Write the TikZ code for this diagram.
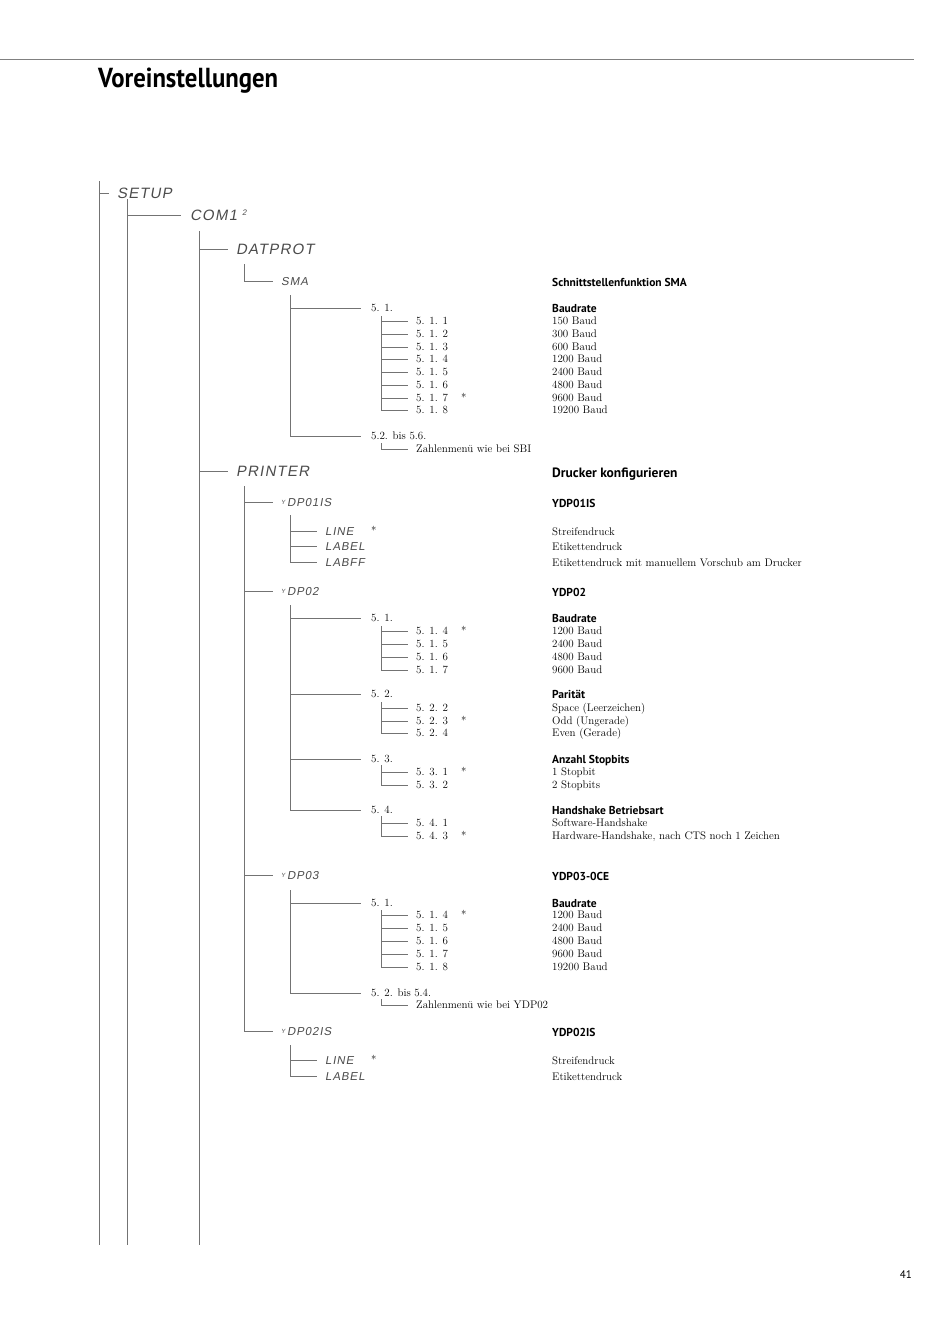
\documentclass[tikz,border=0pt]{standalone}
\usepackage{fontspec}
\newfontfamily\headfont[FakeStretch=0.9]{PT Sans}
\newfontfamily\labfont{PT Sans}
\newfontfamily\lcdfont[FakeSlant=0.18,LetterSpace=8]{Liberation Sans}
\newcommand{\ydp}{\raisebox{2pt}{\fontsize{6}{6}\selectfont Y}\,}

\begin{document}
\begin{tikzpicture}[x=1pt,y=-1pt,
  tree/.style={draw=black!55,line width=0.7pt},
  lcd/.style={anchor=west,inner xsep=8pt,inner ysep=0pt,text height=10.8pt,text depth=0pt,text=black!70,font=\lcdfont\fontsize{15}{15}\selectfont},
  lcdsm/.style={lcd,text height=8.3pt,font=\lcdfont\fontsize{11.5}{12}\selectfont},
  num/.style={anchor=west,inner xsep=8pt,inner ysep=0pt,text height=7.2pt,text depth=0pt,font=\fontsize{11}{12}\selectfont},
  txt/.style={anchor=west,inner sep=0pt,text height=7.2pt,text depth=0pt,font=\fontsize{11}{12}\selectfont},
  hd/.style={anchor=west,inner sep=0pt,text height=8pt,text depth=0pt,font=\labfont\bfseries\fontsize{11.5}{13}\selectfont},
  star/.style={anchor=west,inner sep=0pt,text height=7.2pt,text depth=0pt,font=\fontsize{11}{12}\selectfont}]
  \useasboundingbox (0,0) rectangle (950,1344);
  \fill[white] (0,0) rectangle (950,1344);
  \draw[draw=black!50,line width=1pt] (0,59) -- (914,59);
  \node[anchor=base west,inner sep=0pt,font=\headfont\bfseries\fontsize{27.5}{28}\selectfont] (title) at (98,87) {Voreinstellungen};
  \node[anchor=base east,inner sep=0pt,font=\labfont\fontsize{11}{11}\selectfont] (page) at (912,1278) {41};

  \coordinate (v0) at (99,181);   \coordinate (v0e) at (99,1245);
  \coordinate (v1) at (127,199);  \coordinate (v1e) at (127,1245);
  \coordinate (v2) at (199,231);  \coordinate (v2e) at (199,1245);
  \coordinate (v3) at (244,264);
  \coordinate (v4) at (290,295);
  \coordinate (v5) at (381,316);
  \coordinate (v6) at (381,443);
  \coordinate (v7) at (244,486);
  \coordinate (v8) at (290,515);
  \coordinate (v9) at (290,605);
  \coordinate (v10) at (381,626);
  \coordinate (v11) at (381,702);
  \coordinate (v12) at (381,765);
  \coordinate (v13) at (381,816);
  \coordinate (v14) at (290,890);
  \coordinate (v15) at (381,910);
  \coordinate (v16) at (381,999);
  \coordinate (v17) at (290,1045);

  \node[lcd] (setup) at (109,193) {SETUP};
  \node[lcd,inner xsep=9pt] (com) at (181,215) {COM1\hspace{5pt}\raisebox{5pt}{\fontsize{8}{8}\selectfont 2}};
  \node[lcd] (datprot) at (228,249) {DATPROT};
  \node[lcdsm] (sma) at (273,281) {SMA};
  \node[lcd] (printer) at (228,471) {PRINTER};
  \path[tree] (v0) edge (v0e) (v0) |- (setup.west);
  \path[tree] (v1) edge (v1e) (v1) |- (com.west);
  \path[tree] (v2) edge (v2e) (v2) |- (datprot.west) (v2) |- (printer.west);
  \draw[tree] (v3) |- (sma.west);

  \node[hd] (hsma) at (552,282) {Schnittstellenfunktion SMA};
  \node[num,inner xsep=10pt] (s1) at (361,308) {5. 1.};
  \node[hd] (hs1) at (552,308) {Baudrate};
  \node[num,inner xsep=10pt] (s2) at (361,436) {5.2. bis 5.6.};
  \node[num] (s2z) at (408,449) {Zahlenmen\"u wie bei SBI};
  \draw[tree] (v4) |- (s1.west) (v4) |- (s2.west) (v6) |- (s2z.west);
  \foreach \y/\n/\r [count=\i] in {321/1/150,334/2/300,347/3/600,359/4/1200,372/5/2400,385/6/4800,398/7/9600,410/8/19200}{
    \node[num] (s1-\i) at (408,\y) {5. 1. \n};
    \node[txt] (rs1-\i) at (552,\y) {\r\ Baud};
    \draw[tree] (v5) |- (s1-\i.west);
  }

  \node[hd,font=\labfont\bfseries\fontsize{13.5}{15}\selectfont,text height=9.5pt] (hprn) at (552,473) {Drucker konfigurieren};
  \foreach \y/\t/\r [count=\i] in {502/01IS/YDP01IS,591/02/YDP02,875/03/YDP03-0CE,1031/02IS/YDP02IS}{
    \node[lcdsm] (y\i) at (273,\y) {\ydp DP\t};
    \node[hd] (hy\i) at (552,\y+1) {\r};
    \draw[tree] (v7) |- (y\i.west);
  }

  \foreach \y/\t/\r [count=\i] in {531/LINE/Streifendruck,546/LABEL/Etikettendruck,562/LABFF/Etikettendruck mit manuellem Vorschub am Drucker}{
    \node[lcdsm] (y1-\i) at (317,\y) {\t};
    \node[txt] (ry1-\i) at (552,\y+1) {\r};
    \draw[tree] (v8) |- (y1-\i.west);
  }

  \foreach \y/\t/\r [count=\i] in {618/1/Baudrate,694/2/Parit\"at,759/3/Anzahl Stopbits,810/4/Handshake Betriebsart}{
    \node[num,inner xsep=10pt] (c\i) at (361,\y) {5. \t.};
    \node[hd] (hc\i) at (552,\y) {\r};
    \draw[tree] (v9) |- (c\i.west);
  }
  \foreach \y/\t/\r [count=\i] in {631/4/1200 Baud,644/5/2400 Baud,657/6/4800 Baud,670/7/9600 Baud}{
    \node[num] (c1-\i) at (408,\y) {5. 1. \t};
    \node[txt] (rc1-\i) at (552,\y) {\r};
    \draw[tree] (v10) |- (c1-\i.west);
  }
  \foreach \y/\t/\r [count=\i] in {708/2/Space (Leerzeichen),721/3/Odd (Ungerade),733/4/Even (Gerade)}{
    \node[num] (c2-\i) at (408,\y) {5. 2. \t};
    \node[txt] (rc2-\i) at (552,\y) {\r};
    \draw[tree] (v11) |- (c2-\i.west);
  }
  \foreach \y/\t/\r [count=\i] in {772/1/1 Stopbit,785/2/2 Stopbits}{
    \node[num] (c3-\i) at (408,\y) {5. 3. \t};
    \node[txt] (rc3-\i) at (552,\y) {\r};
    \draw[tree] (v12) |- (c3-\i.west);
  }
  \foreach \y/\t/\r [count=\i] in {823/1/Software-Handshake,836/3/{Hardware-Handshake, nach CTS noch 1 Zeichen}}{
    \node[num] (c4-\i) at (408,\y) {5. 4. \t};
    \node[txt] (rc4-\i) at (552,\y) {\r};
    \draw[tree] (v13) |- (c4-\i.west);
  }

  \node[num,inner xsep=10pt] (d1) at (361,903) {5. 1.};
  \node[hd] (hd1) at (552,903) {Baudrate};
  \node[num,inner xsep=10pt] (d2) at (361,993) {5. 2. bis 5.4.};
  \node[num] (d2z) at (408,1005) {Zahlenmen\"u wie bei YDP02};
  \draw[tree] (v14) |- (d1.west) (v14) |- (d2.west) (v16) |- (d2z.west);
  \foreach \y/\t/\r [count=\i] in {915/4/1200,928/5/2400,941/6/4800,954/7/9600,967/8/19200}{
    \node[num] (d1-\i) at (408,\y) {5. 1. \t};
    \node[txt] (rd1-\i) at (552,\y) {\r\ Baud};
    \draw[tree] (v15) |- (d1-\i.west);
  }

  \foreach \y/\t/\r [count=\i] in {1060/LINE/Streifendruck,1076/LABEL/Etikettendruck}{
    \node[lcdsm] (y4-\i) at (317,\y) {\t};
    \node[txt] (ry4-\i) at (552,\y+1) {\r};
    \draw[tree] (v17) |- (y4-\i.west);
  }

  \foreach \y [count=\i] in {398,631,721,772,836,915}
    \node[star] (st\i) at (461,\y) {*};
  \foreach \y [count=\i] in {531,1060}
    \node[star] (sl\i) at (371,\y) {*};
\end{tikzpicture}
\end{document}
